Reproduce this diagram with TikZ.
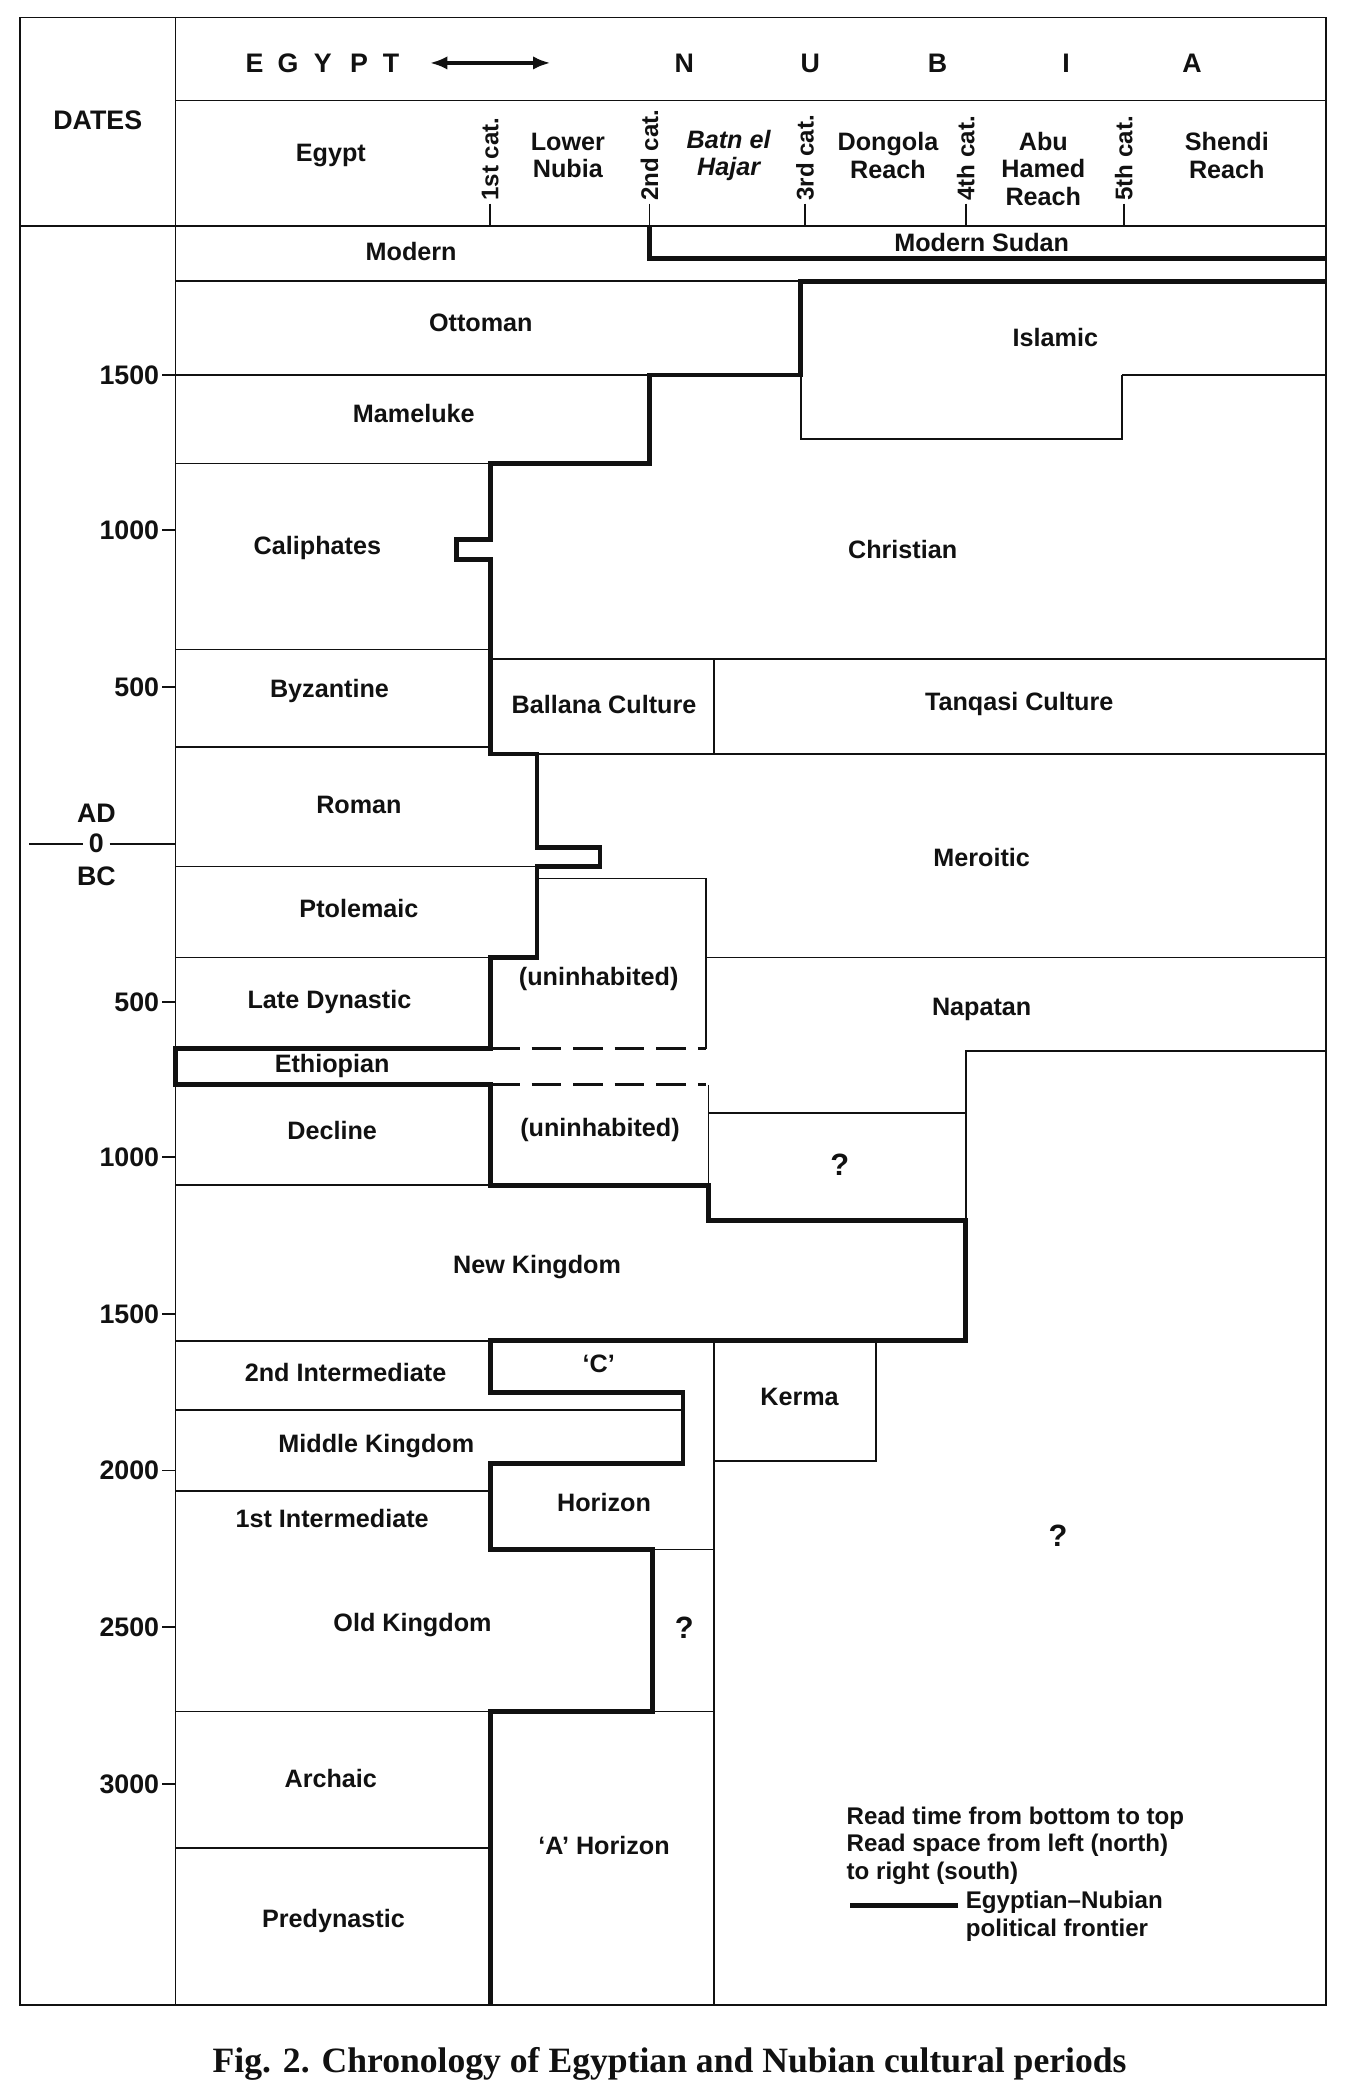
\documentclass[tikz,border=0pt]{standalone}
\usepackage{fontspec}
\setmainfont{Liberation Sans}
\newfontfamily\capfont{Liberation Serif}
\usepackage{tikz}
\usetikzlibrary{arrows.meta}
\definecolor{ink}{HTML}{111111}
\tikzset{
  gridline/.style={draw=ink, line width=1.3pt},
  frontier/.style={draw=ink, line width=3.6pt, line join=miter},
  gap/.style={draw=ink, line width=2pt, dash pattern=on 22pt off 9pt},
  period/.style={font=\fontsize{18.8}{20.5}\selectfont\bfseries, text=ink, align=center, inner sep=1pt},
  legendtext/.style={period, font=\fontsize{18}{20.5}\selectfont\bfseries, align=left, anchor=north west},
  query/.style={period, font=\fontsize{23}{25}\selectfont\bfseries},
  cataract/.style={period, font=\fontsize{18}{20}\selectfont\bfseries, rotate=90, anchor=west},
  year/.style={period, font=\fontsize{20}{22}\selectfont\bfseries, anchor=east},
  headletter/.style={period, font=\fontsize{20}{22}\selectfont\bfseries},
  twoway/.style={{Latex[length=13pt,width=10pt]}-{Latex[length=13pt,width=10pt]}, draw=ink, line width=2.6pt}
}

\begin{document}
\begin{tikzpicture}[x=1pt,y=-1pt]
  \useasboundingbox (0,0) rectangle (1015,1568);

  % frame and header
  \draw[gridline] (15,13) rectangle (990,1497);
  \draw[gridline] (131,13) -- (131,1497);
  \draw[gridline] (131,75) -- (990,75);
  \draw[gridline] (15,169) -- (990,169);
  \node[headletter] (dates) at (73,90) {DATES};
  \foreach \l/\x [count=\i] in {E/190,G/215,Y/241,P/268,T/292}
    \node[headletter] (eg\i) at (\x,47) {\l};
  \foreach \l/\x [count=\i] in {N/511,U/605,B/700,I/796,A/890}
    \node[headletter] (nu\i) at (\x,47) {\l};
  \coordinate (arrL) at (321,47);
  \coordinate (arrR) at (411,47);
  \draw[twoway] (arrL) -- (arrR);
  \foreach \x/\t [count=\i] in {366/1st,485/2nd,601/3rd,721/4th,839/5th} {
    \draw[gridline] (\x,152) -- (\x,169);
    \node[cataract] (cat\i) at (\x,151) {\t\ cat.};
  }
  \node[period] (egypt) at (247,116) {Egypt};
  \node[period] (lower) at (424,116) {Lower\\Nubia};
  \node[period, font=\fontsize{18.8}{20.5}\selectfont\bfseries\itshape] (batn) at (544,116) {Batn el\\Hajar};
  \node[period] (dongola) at (663,116) {Dongola\\Reach};
  \node[period] (abu) at (779,126) {Abu\\Hamed\\Reach};
  \node[period] (shendi) at (916,116) {Shendi\\Reach};

  % date scale
  \foreach \y/\t [count=\i] in {280/1500,396/1000,513/500,748/500,864/1000,981/1500,1098/2000,1215/2500,1332/3000} {
    \draw[gridline] (121,\y) -- (131,\y);
    \node[year] (yr\i) at (120,\y) {\t};
  }
  \node[headletter] (ad) at (72,607) {AD};
  \node[headletter] (zero) at (72,630) {0};
  \node[headletter] (bc) at (72,654) {BC};
  \draw[gridline] (22,630) -- ([xshift=-3pt]zero.west);
  \draw[gridline] ([xshift=3pt]zero.east) -- (131,630);

  % period boundaries
  \draw[gridline] (131,210) -- (598,210);
  \draw[gridline] (131,280) -- (485,280) (838,280) -- (990,280);
  \draw[gridline] (598,280) -- (598,328) -- (838,328) -- (838,280);
  \draw[gridline] (131,346) -- (366,346);
  \draw[gridline] (131,485) -- (366,485);
  \draw[gridline] (366,492) -- (990,492) (533,492) -- (533,563);
  \draw[gridline] (131,558) -- (366,558);
  \draw[gridline] (401,563) -- (990,563);
  \draw[gridline] (131,647) -- (401,647);
  \draw[gridline] (401,656) -- (527,656) -- (527,783);
  \draw[gridline] (131,715) -- (366,715) (527,715) -- (990,715);
  \draw[gap] (366,783) -- (527,783) (366,810) -- (527,810);
  \draw[gridline] (721,911) -- (721,785) -- (990,785);
  \draw[gridline] (529,810) -- (529,885) (529,831) -- (721,831);
  \draw[gridline] (131,885) -- (366,885);
  \draw[gridline] (131,1001) -- (366,1001) (533,1001) -- (533,1497);
  \draw[gridline] (654,1001) -- (654,1091) -- (533,1091);
  \draw[gridline] (131,1053) -- (510,1053);
  \draw[gridline] (131,1113) -- (366,1113);
  \draw[gridline] (487,1157) -- (533,1157);
  \draw[gridline] (131,1278) -- (366,1278) (487,1278) -- (533,1278);
  \draw[gridline] (131,1380) -- (366,1380);

  % political frontier
  \draw[frontier] (485,169) -- (485,193) -- (990,193);
  \draw[frontier] (990,210) -- (598,210) -- (598,280) -- (485,280) -- (485,346)
    -- (366,346) -- (366,403) -- (341,403) -- (341,418) -- (366,418) -- (366,563)
    -- (401,563) -- (401,633) -- (448,633) -- (448,647) -- (401,647) -- (401,715)
    -- (366,715) -- (366,783) -- (131,783) -- (131,810) -- (366,810) -- (366,885)
    -- (529,885) -- (529,911) -- (721,911) -- (721,1001) -- (366,1001) -- (366,1040)
    -- (510,1040) -- (510,1093) -- (366,1093) -- (366,1157) -- (487,1157)
    -- (487,1278) -- (366,1278) -- (366,1497);

  % period names
  \node[period] (modern) at (307,188) {Modern};
  \node[period] (sudan) at (733,181) {Modern Sudan};
  \node[period] (ottoman) at (359,241) {Ottoman};
  \node[period] (islamic) at (788,252) {Islamic};
  \node[period] (mameluke) at (309,309) {Mameluke};
  \node[period] (caliph) at (237,409) {Caliphates};
  \node[period] (christian) at (674,410) {Christian};
  \node[period] (byzant) at (246,516) {Byzantine};
  \node[period] (ballana) at (451,526) {Ballana Culture};
  \node[period] (tanqasi) at (761,526) {Tanqasi Culture};
  \node[period] (roman) at (268,601) {Roman};
  \node[period] (meroitic) at (733,640) {Meroitic};
  \node[period] (ptolemaic) at (268,678) {Ptolemaic};
  \node[period] (uninhA) at (447,731) {(uninhabited)};
  \node[period] (latedyn) at (246,748) {Late Dynastic};
  \node[period] (napatan) at (733,754) {Napatan};
  \node[period] (ethiop) at (248,796) {Ethiopian};
  \node[period] (decline) at (248,844) {Decline};
  \node[period] (uninhB) at (448,844) {(uninhabited)};
  \node[query] (qA) at (627,870) {?};
  \node[period] (newking) at (401,946) {New Kingdom};
  \node[period] (secint) at (258,1025) {2nd Intermediate};
  \node[period] (cgroup) at (447,1018) {`C'};
  \node[period] (kerma) at (597,1043) {Kerma};
  \node[period] (midking) at (281,1080) {Middle Kingdom};
  \node[period] (horizon) at (451,1122) {Horizon};
  \node[period] (firstint) at (248,1134) {1st Intermediate};
  \node[query] (qB) at (790,1147) {?};
  \node[period] (oldking) at (308,1213) {Old Kingdom};
  \node[query] (qC) at (511,1215) {?};
  \node[period] (archaic) at (247,1328) {Archaic};
  \node[period] (ahorizon) at (451,1378) {`A' Horizon};
  \node[period] (predyn) at (249,1434) {Predynastic};

  % legend
  \node[legendtext] (readme) at (631,1348)
    {Read time from bottom to top\\Read space from left (north)\\to right (south)};
  \node[legendtext] (legtext) at (720,1411)
    {Egyptian--Nubian\\political frontier};
  \coordinate (legL) at (635,1423);
  \draw[frontier] (legL) -- ([xshift=-5pt]legtext.west |- legL);

  % caption
  \node[font=\capfont\bfseries\fontsize{26.6}{30}\selectfont, text=ink] (caption) at (500,1541)
    {Fig. 2. Chronology of Egyptian and Nubian cultural periods};
\end{tikzpicture}
\end{document}
